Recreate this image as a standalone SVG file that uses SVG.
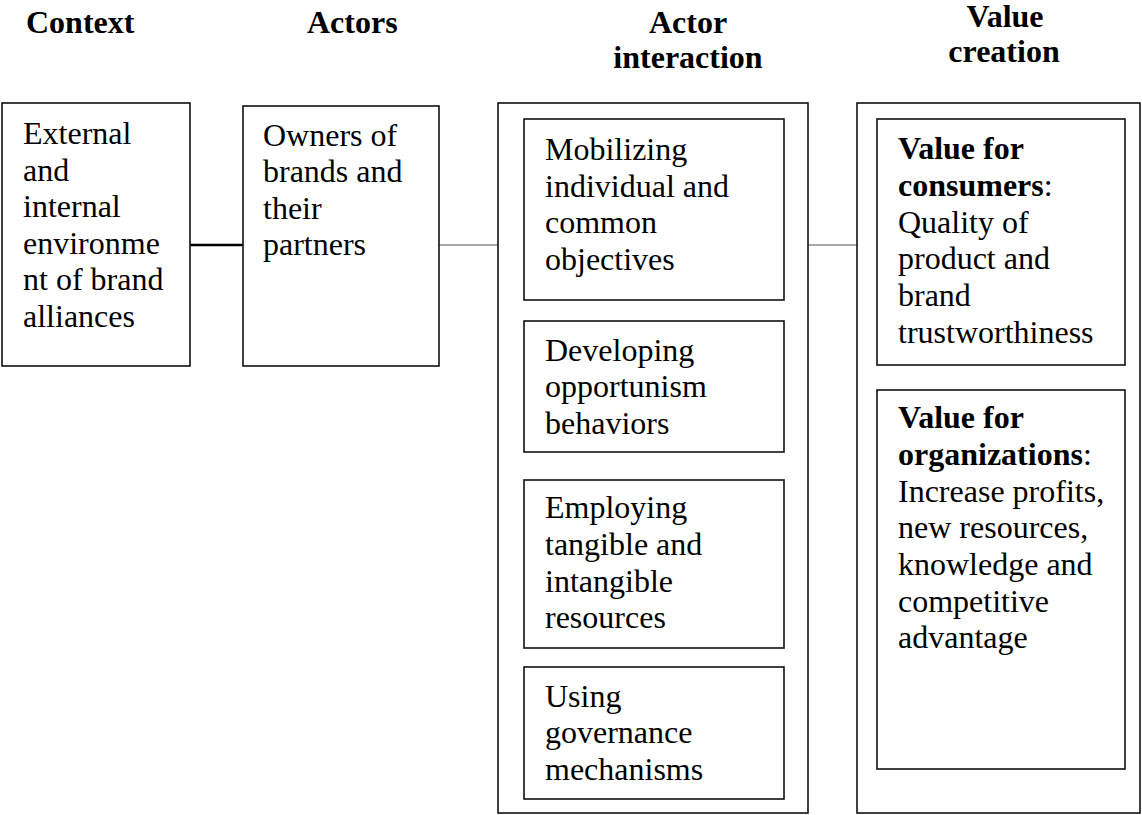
<svg xmlns="http://www.w3.org/2000/svg" width="1142" height="815" viewBox="0 0 1142 815">
<style>
text{font-family:"Liberation Serif","Times New Roman",serif;font-size:32px;fill:#000}
.h{font-weight:bold}
.mid{text-anchor:middle}
.box{fill:#fff;stroke:#111;stroke-width:1.6}
.thin{stroke:#555;stroke-width:1.2}
.thick{stroke:#000;stroke-width:2.6}
</style>
<rect width="1142" height="815" fill="#fff"/>
<g id="headers">
<text class="h" x="26" y="33">Context</text>
<text class="h" x="307" y="33">Actors</text>
<text class="h mid" x="688" y="33">Actor</text>
<text class="h mid" x="688" y="68">interaction</text>
<text class="h mid" x="1005" y="27">Value</text>
<text class="h mid" x="1004" y="62">creation</text>
</g>
<g id="connectors">
<line class="thick" x1="190" y1="245" x2="243" y2="245"/>
<line class="thin" x1="439" y1="245" x2="498" y2="245"/>
<line class="thin" x1="808" y1="245" x2="857" y2="245"/>
</g>
<g id="context">
<rect class="box" x="2" y="103" width="188" height="263"/>
<text x="23" y="144">External</text>
<text x="23" y="181">and</text>
<text x="23" y="217">internal</text>
<text x="23" y="254">environme</text>
<text x="23" y="290">nt of brand</text>
<text x="23" y="327">alliances</text>
</g>
<g id="actors">
<rect class="box" x="243" y="106" width="196" height="260"/>
<text x="263" y="146">Owners of</text>
<text x="263" y="182">brands and</text>
<text x="263" y="219">their</text>
<text x="263" y="255">partners</text>
</g>
<g id="actor-interaction">
<rect class="box" x="498" y="103" width="310" height="710"/>
<g id="mobilizing">
<rect class="box" x="524" y="119" width="260" height="181"/>
<text x="545" y="160">Mobilizing</text>
<text x="545" y="197">individual and</text>
<text x="545" y="233">common</text>
<text x="545" y="270">objectives</text>
</g>
<g id="developing">
<rect class="box" x="524" y="321" width="260" height="131"/>
<text x="545" y="361">Developing</text>
<text x="545" y="397">opportunism</text>
<text x="545" y="434">behaviors</text>
</g>
<g id="employing">
<rect class="box" x="524" y="480" width="260" height="168"/>
<text x="545" y="518">Employing</text>
<text x="545" y="555">tangible and</text>
<text x="545" y="592">intangible</text>
<text x="545" y="628">resources</text>
</g>
<g id="using">
<rect class="box" x="524" y="667" width="260" height="132"/>
<text x="545" y="707">Using</text>
<text x="545" y="743">governance</text>
<text x="545" y="780">mechanisms</text>
</g>
</g>
<g id="value-creation">
<rect class="box" x="857" y="103" width="283" height="710"/>
<g id="value-consumers">
<rect class="box" x="877" y="119" width="248" height="246"/>
<text x="898" y="159"><tspan class="h">Value for</tspan></text>
<text x="898" y="196"><tspan class="h">consumers</tspan>:</text>
<text x="898" y="233">Quality of</text>
<text x="898" y="269">product and</text>
<text x="898" y="306">brand</text>
<text x="898" y="343">trustworthiness</text>
</g>
<g id="value-organizations">
<rect class="box" x="877" y="390" width="248" height="379"/>
<text x="898" y="428"><tspan class="h">Value for</tspan></text>
<text x="898" y="465"><tspan class="h">organizations</tspan>:</text>
<text x="898" y="502">Increase profits,</text>
<text x="898" y="538">new resources,</text>
<text x="898" y="575">knowledge and</text>
<text x="898" y="612">competitive</text>
<text x="898" y="648">advantage</text>
</g>
</g>
</svg>
